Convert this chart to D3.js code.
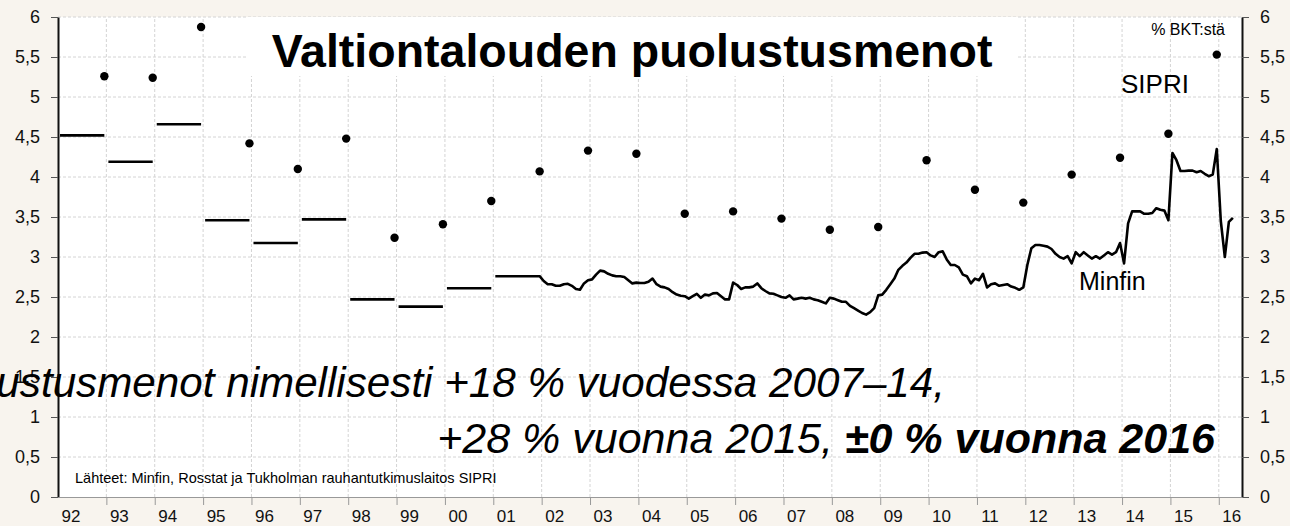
<!DOCTYPE html>
<html>
<head>
<script src="https://d3js.org/d3.v7.min.js"></script>
<style>
  body { margin: 0; background: #f8f4ee; }
  svg { display: block; font-family: Arial, "Liberation Sans", sans-serif; }
</style>
</head>
<body>
<svg></svg>
<script>
// x-axis year ticks (labels shown as two digits)
const years = [1992, 1993, 1994, 1995, 1996, 1997, 1998, 1999, 2000, 2001, 2002, 2003, 2004,
               2005, 2006, 2007, 2008, 2009, 2010, 2011, 2012, 2013, 2014, 2015, 2016];
const yTicks = [0, 0.5, 1, 1.5, 2, 2.5, 3, 3.5, 4, 4.5, 5, 5.5, 6];

// Minfin, annual level 1992-2000 (% of GDP)
const minfinAnnualYears = [1992, 1993, 1994, 1995, 1996, 1997, 1998, 1999, 2000];
const minfinAnnual = [4.52, 4.19, 4.66, 3.46, 3.175, 3.47, 2.47, 2.38, 2.61];

// Minfin, monthly from Jan 2001 (% of GDP)
const minfinStart = 2001;
const minfinMonthly = [
  2.76, 2.76, 2.76, 2.76, 2.76, 2.76, 2.76, 2.76, 2.76, 2.76, 2.76, 2.76,        // 2001
  2.70, 2.66, 2.66, 2.64, 2.64, 2.66, 2.665, 2.64, 2.60, 2.59, 2.67, 2.71,       // 2002
  2.72, 2.78, 2.83, 2.82, 2.79, 2.77, 2.76, 2.76, 2.75, 2.71, 2.67, 2.68,        // 2003
  2.675, 2.675, 2.69, 2.73, 2.66, 2.63, 2.62, 2.60, 2.56, 2.53, 2.515, 2.51,     // 2004
  2.48, 2.51, 2.54, 2.49, 2.53, 2.52, 2.545, 2.55, 2.51, 2.47, 2.47, 2.68,       // 2005
  2.65, 2.60, 2.62, 2.62, 2.63, 2.67, 2.61, 2.575, 2.545, 2.54, 2.52, 2.50,      // 2006
  2.49, 2.52, 2.47, 2.48, 2.49, 2.48, 2.49, 2.47, 2.46, 2.44, 2.42, 2.49,        // 2007
  2.48, 2.46, 2.44, 2.44, 2.39, 2.36, 2.33, 2.30, 2.28, 2.31, 2.36, 2.52,        // 2008
  2.53, 2.59, 2.66, 2.73, 2.84, 2.89, 2.93, 2.99, 3.04, 3.04, 3.055, 3.06,       // 2009
  3.02, 3.00, 3.06, 3.07, 2.97, 2.90, 2.90, 2.87, 2.78, 2.76, 2.67, 2.73,        // 2010
  2.71, 2.79, 2.62, 2.66, 2.67, 2.64, 2.65, 2.66, 2.63, 2.615, 2.59, 2.62,       // 2011
  2.90, 3.11, 3.15, 3.15, 3.14, 3.13, 3.10, 3.04, 3.00, 2.98, 3.01, 2.92,        // 2012
  3.06, 3.01, 3.06, 3.02, 2.98, 3.01, 2.98, 3.02, 3.06, 3.03, 3.06, 3.175,       // 2013
  2.92, 3.42, 3.57, 3.57, 3.57, 3.54, 3.54, 3.55, 3.61, 3.59, 3.58, 3.46,        // 2014
  4.30, 4.21, 4.075, 4.075, 4.08, 4.08, 4.06, 4.075, 4.04, 4.01, 4.03, 4.35,     // 2015
  3.45, 3.00, 3.44, 3.49                                                         // 2016
];

// SIPRI, annual (% of GDP), plotted at year end
const sipriYears = [1992, 1993, 1994, 1995, 1996, 1997, 1998, 1999, 2000, 2001, 2002, 2003,
                    2004, 2005, 2006, 2007, 2008, 2009, 2010, 2011, 2012, 2013, 2014, 2015];
const sipri = [5.26, 5.24, 5.875, 4.42, 4.10, 4.48, 3.24, 3.41, 3.70, 4.07, 4.33, 4.29,
               3.54, 3.57, 3.48, 3.34, 3.375, 4.21, 3.84, 3.68, 4.03, 4.24, 4.54, 5.53];

const width = 1290, height = 526;
const margin = {top: 17, right: 48, bottom: 29, left: 58};

const svg = d3.select("svg").attr("width", width).attr("height", height);

const x = d3.scaleLinear()
    .domain([1992, 2016.48])
    .range([margin.left, width - margin.right]);
const y = d3.scaleLinear()
    .domain([0, 6])
    .range([height - margin.bottom, margin.top]);

const fmt = d => d3.format(".1~f")(d).replace(".", ",");

// background + plot area
svg.append("rect").attr("width", width).attr("height", height).attr("fill", "#f8f4ee");
svg.append("rect")
    .attr("x", x.range()[0]).attr("y", y.range()[1])
    .attr("width", x.range()[1] - x.range()[0])
    .attr("height", y.range()[0] - y.range()[1])
    .attr("fill", "#fff");

// grid
const grid = svg.append("g").attr("stroke", "#d4d4d4").attr("stroke-dasharray", "3,2").attr("stroke-width", 1);
grid.selectAll(".vg").data(years.slice(1)).enter().append("line")
    .attr("x1", d => x(d)).attr("x2", d => x(d))
    .attr("y1", y(0)).attr("y2", y(6));
grid.selectAll(".hg").data(yTicks.slice(1)).enter().append("line")
    .attr("x1", x.range()[0]).attr("x2", x.range()[1])
    .attr("y1", d => y(d)).attr("y2", d => y(d));

// white box behind the title
svg.append("rect")
    .attr("x", 246).attr("y", y(6))
    .attr("width", 772).attr("height", 59)
    .attr("fill", "#fff");

// Minfin annual steps
svg.append("g").selectAll("line")
    .data(minfinAnnual).enter().append("line")
    .attr("x1", (d, i) => x(minfinAnnualYears[i] + 0.5 / 12))
    .attr("x2", (d, i) => x(minfinAnnualYears[i] + 11.5 / 12))
    .attr("y1", d => y(d)).attr("y2", d => y(d))
    .attr("stroke", "#000").attr("stroke-width", 2.6);

// Minfin monthly line
const line = d3.line()
    .x((d, i) => x(minfinStart + (i + 0.5) / 12))
    .y(d => y(d));
svg.append("path")
    .datum(minfinMonthly)
    .attr("d", line)
    .attr("fill", "none")
    .attr("stroke", "#000")
    .attr("stroke-width", 2.6)
    .attr("stroke-linejoin", "round");

// SIPRI dots
svg.append("g").selectAll("circle")
    .data(sipri).enter().append("circle")
    .attr("cx", (d, i) => x(sipriYears[i] + 11.5 / 12))
    .attr("cy", d => y(d))
    .attr("r", 4.2)
    .attr("fill", "#000");

// axes
const yLeft = svg.append("g")
    .attr("transform", `translate(${x.range()[0]},0)`)
    .call(d3.axisLeft(y).tickValues(yTicks).tickSize(7).tickPadding(11).tickFormat(fmt).tickSizeOuter(0));
const yRight = svg.append("g")
    .attr("transform", `translate(${x.range()[1]},0)`)
    .call(d3.axisRight(y).tickValues(yTicks).tickSize(7).tickPadding(11).tickFormat(fmt).tickSizeOuter(0));
[yLeft, yRight].forEach(g => {
    g.select(".domain").attr("stroke", "#111").attr("stroke-width", 2);
    g.selectAll(".tick line").attr("stroke", "#555");
    g.selectAll(".tick text").attr("font-size", 18).attr("fill", "#111").attr("font-family", "Arial, 'Liberation Sans', sans-serif");
});

const xAxis = svg.append("g")
    .attr("transform", `translate(0,${y(0)})`)
    .call(d3.axisBottom(x).tickValues(years).tickSize(8).tickSizeOuter(0).tickFormat(d => String(d).slice(2)));
xAxis.select(".domain").attr("stroke", "#999").attr("stroke-width", 1.2);
xAxis.selectAll(".tick line").attr("stroke", "#999");
xAxis.selectAll(".tick text")
    .attr("x", 12.5).attr("y", 0).attr("dy", 0)
    .attr("transform", "translate(0,25)")
    .attr("font-size", 17).attr("fill", "#111")
    .attr("font-family", "'Liberation Sans Narrow', 'Arial Narrow', Arial, sans-serif");
xAxis.selectAll(".tick").filter(d => d === 1992).select("line").remove();

// title
svg.append("text")
    .attr("x", 632).attr("y", 67)
    .attr("text-anchor", "middle")
    .attr("font-size", 46.5).attr("font-weight", "bold")
    .text("Valtiontalouden puolustusmenot");

svg.append("text")
    .attr("x", 1225).attr("y", 35)
    .attr("text-anchor", "end")
    .attr("font-size", 16)
    .text("% BKT:stä");

svg.append("text")
    .attr("x", 1121).attr("y", 93)
    .attr("font-size", 26)
    .text("SIPRI");

svg.append("text")
    .attr("x", 1079).attr("y", 290)
    .attr("font-size", 25)
    .text("Minfin");

// annotation
svg.append("text")
    .attr("x", 945).attr("y", 397)
    .attr("text-anchor", "end")
    .attr("font-size", 42.2).attr("font-style", "italic")
    .text("Puolustusmenot nimellisesti +18 % vuodessa 2007\u201314,");

const ann2 = svg.append("text")
    .attr("x", 1215).attr("y", 453)
    .attr("text-anchor", "end")
    .attr("font-size", 43).attr("font-style", "italic");
ann2.append("tspan").text("+28 % vuonna 2015, ");
ann2.append("tspan").attr("font-weight", "bold").text("\u00b10 % vuonna 2016");

svg.append("text")
    .attr("x", 75).attr("y", 483)
    .attr("font-size", 14.5)
    .text("Lähteet: Minfin, Rosstat ja Tukholman rauhantutkimuslaitos SIPRI");
</script>
</body>
</html>
